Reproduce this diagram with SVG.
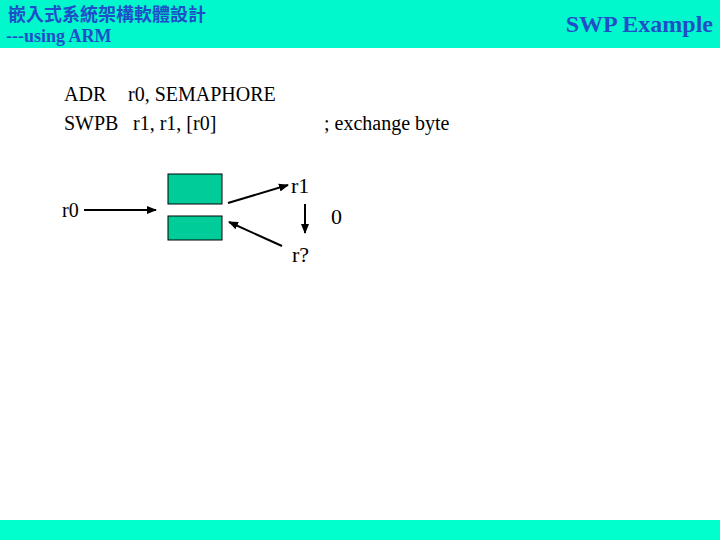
<svg xmlns="http://www.w3.org/2000/svg" width="720" height="540" viewBox="0 0 720 540">
<defs>
<style>
.hdr{fill:#1f4fc8;font-family:"Liberation Serif","Noto Sans CJK TC",serif;font-weight:bold}
.t{fill:#000;font-family:"Liberation Serif",serif;font-size:20px}
.lbl{fill:#000;font-family:"Liberation Serif",serif;font-size:22px}
.box{fill:#00CC99;stroke:#000;stroke-width:1}
.con{stroke:#000;stroke-width:2;fill:none;marker-end:url(#ah)}
</style>
<marker id="ah" viewBox="0 0 10 10" refX="9" refY="5" markerWidth="5" markerHeight="5" orient="auto" markerUnits="strokeWidth">
<path d="M0,1 L10,5 L0,9 z" fill="#000"/>
</marker>
</defs>
<rect x="0" y="0" width="720" height="48" fill="#00F8CC"/>
<rect x="0" y="520" width="720" height="20" fill="#00FFCC"/>
<text class="hdr" x="8" y="21" font-size="18" font-family="'Noto Sans CJK TC',sans-serif">嵌入式系統架構軟體設計</text>
<text class="hdr" x="6" y="42" font-size="18">---using ARM</text>
<text class="hdr" x="713" y="32" font-size="24" text-anchor="end">SWP Example</text>
<g id="code">
<text class="t" x="64" y="101">ADR</text>
<text class="t" x="128" y="101">r0, SEMAPHORE</text>
<text class="t" x="64" y="130">SWPB</text>
<text class="t" x="133" y="130">r1, r1, [r0]</text>
<text class="t" x="324" y="130">; exchange byte</text>
</g>
<g id="mem_top"><rect class="box" x="168" y="174" width="54" height="30"/></g>
<g id="mem_bottom"><rect class="box" x="168" y="216" width="54" height="24"/></g>
<g id="r0"><text class="t" x="62" y="217">r0</text></g>
<g id="r1"><text class="lbl" x="291" y="193">r1</text></g>
<g id="zero"><text class="lbl" x="331" y="224">0</text></g>
<g id="rq"><text class="lbl" x="292" y="262">r?</text></g>
<g id="connectors">
<line class="con" x1="84" y1="210" x2="156" y2="210"/>
<line class="con" x1="228" y1="203" x2="288" y2="185"/>
<line class="con" x1="305" y1="204" x2="305" y2="233"/>
<line class="con" x1="282" y1="246" x2="229" y2="222"/>
</g>
</svg>
